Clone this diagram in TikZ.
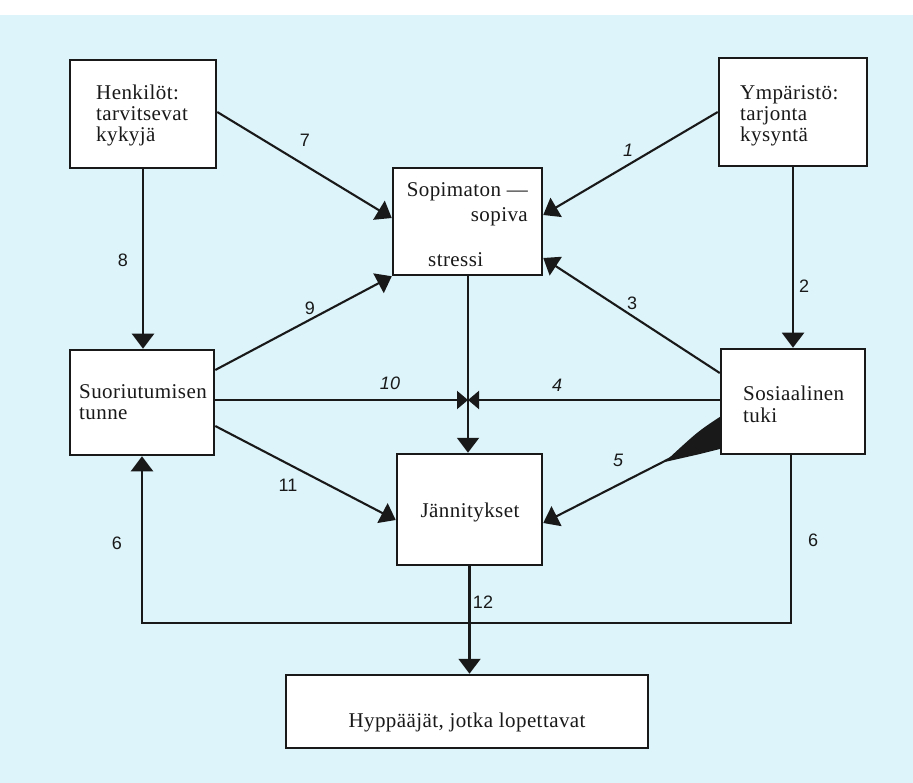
\documentclass[tikz,border=0pt]{standalone}
\usepackage{fontspec}
\setmainfont{Liberation Serif}[LetterSpace=2]
\newfontfamily\numfont{Liberation Sans}
\usetikzlibrary{arrows.meta,calc}
\definecolor{bgblue}{RGB}{220,244,250}
\definecolor{inkc}{RGB}{25,25,25}
\tikzset{
 box/.style={draw=inkc,line width=2.5pt,fill=white,inner sep=0pt},
 conn/.style={draw=inkc,line width=2.1pt},
 arr/.style={conn,-{Triangle[width=22pt,length=15pt]}},
 arrs/.style={conn,-{Triangle[width=18pt,length=11pt]}},
 lbl/.style={font=\numfont\fontsize{18}{18}\selectfont,text=inkc,inner sep=0pt},
 txt/.style={font=\fontsize{21}{21}\selectfont,text=inkc,inner sep=0pt},
}
\begin{document}
\begin{tikzpicture}[x=1pt,y=-1pt]
\useasboundingbox (0,0) rectangle (913,783);
\fill[white] (0,0) rectangle (913,783);
\fill[bgblue] (0,15) rectangle (913,783);

% boxes
\node[box,minimum width=146pt,minimum height=108pt] (hen) at (143,114) {};
\node[box,minimum width=149pt,minimum height=107pt] (sop) at (467.5,221.5) {};
\node[box,minimum width=148pt,minimum height=108pt] (ymp) at (793,112) {};
\node[box,minimum width=144pt,minimum height=105pt] (suo) at (142,402.5) {};
\node[box,minimum width=144pt,minimum height=105pt] (sos) at (793,401.5) {};
\node[box,minimum width=145pt,minimum height=111pt] (jan) at (469.5,509.5) {};
\node[box,minimum width=362pt,minimum height=73pt] (hyp) at (467,711.5) {};

% box texts (base anchor = baseline of the last line)
\node[txt,anchor=base west,align=left] (hent) at (96,142) {Henkilöt:\\tarvitsevat\\kykyjä};
\node[txt,anchor=base east,align=right,font=\fontsize{21}{25}\selectfont] (sopt) at (528,222) {Sopimaton —\\sopiva};
\node[txt,anchor=base west] (strt) at (428,267) {stressi};
\node[txt,anchor=base west,align=left] (ympt) at (740,142) {Ympäristö:\\tarjonta\\kysyntä};
\node[txt,anchor=base west,align=left] (suot) at (79,420) {Suoriutumisen\\tunne};
\node[txt,anchor=base west,align=left] (sost) at (743,422) {Sosiaalinen\\tuki};
\node[txt,anchor=base] (jant) at (470,517) {Jännitykset};
\node[txt,anchor=base] (hypt) at (467,727) {Hyppääjät, jotka lopettavat};

% connectors
\coordinate (jn) at (468,400);
\coordinate (fbL) at (142,623);
\draw[arr] ([yshift=2pt]hen.east) -- ([yshift=3.5pt]sop.west);
\draw[arr] (ymp.west) -- ([yshift=6.5pt]sop.east);
\draw[arr] ([yshift=32.5pt]suo.east) -- (sop.south west);
\draw[arr] ([yshift=28.5pt]sos.west) -- ([yshift=-36.5pt]sop.east);
\draw[arrs] ([yshift=2.5pt]suo.east) -- (jn);
\draw[arrs] ([yshift=1.5pt]sos.west) -- (jn);
\draw[arr] ([xshift=0.5pt]sop.south) -- ([xshift=0.5pt]sop.south |- jan.north);
\draw[arr] ([yshift=-23.5pt]suo.east) -- ([yshift=-10.5pt]jan.west);
\draw[arr] ([yshift=-31.5pt]sos.west) -- ([yshift=-13.5pt]jan.east);
\fill[inkc] ($(sos.west)+(0,15.5)$) .. controls ($(sos.west)+(-22,30)$) .. ($(sos.west)+(-55,60.5)$)
  -- ($(sos.west)+(-22,53)$) -- ($(sos.west)+(0,47.5)$) -- cycle;
\draw[arr] (hen.south) -- (hen.south |- suo.north);
\draw[arr] (ymp.south) -- (sos.north);
\draw[arr] (jan.south) -- (jan.south |- hyp.north);
\draw[arr] ([xshift=-2pt]sos.south) |- (fbL) -- (suo.south);

% labels
\node[lbl] (l7) at (305,140) {7};
\node[lbl] (l1) at (628,150) {\itshape 1};
\node[lbl] (l8) at (123,260) {8};
\node[lbl] (l9) at (310,308) {9};
\node[lbl] (l3) at (632,303) {3};
\node[lbl] (l2) at (804,286) {2};
\node[lbl] (l10) at (390,383) {\itshape 10};
\node[lbl] (l4) at (557,385) {\itshape 4};
\node[lbl] (l5) at (618,460) {\itshape 5};
\node[lbl] (l11) at (288,485) {11};
\node[lbl] (l6a) at (117,543) {6};
\node[lbl] (l6b) at (813,540) {6};
\node[lbl] (l12) at (483,602) {12};
\end{tikzpicture}
\end{document}
